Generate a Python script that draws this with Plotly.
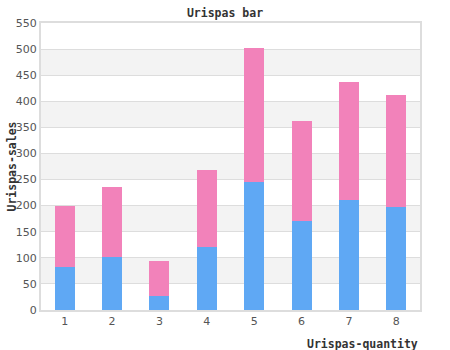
import plotly.graph_objects as go

categories = ["1", "2", "3", "4", "5", "6", "7", "8"]
blue_values = [82, 102, 27, 121, 246, 171, 211, 198]
pink_values = [118, 134, 67, 148, 257, 192, 226, 214]
y_ticks = list(range(0, 551, 50))

fig = go.Figure()
fig.add_trace(go.Bar(x=categories, y=blue_values, marker=dict(color="#5fa8f4", line=dict(width=0)), name="a"))
fig.add_trace(go.Bar(x=categories, y=pink_values, marker=dict(color="#f282ba", line=dict(width=0)), name="b"))

shapes = []
for i in range(len(y_ticks) - 1):
    if i % 2 == 1:
        shapes.append(dict(type="rect", xref="paper", yref="y", x0=0, x1=1,
                           y0=y_ticks[i], y1=y_ticks[i + 1], fillcolor="#f3f3f3",
                           line=dict(width=0), layer="below"))

fig.update_layout(
    width=450, height=350,
    margin=dict(l=41, r=30, t=23, b=40),
    barmode="stack", bargap=0.58,
    showlegend=False,
    paper_bgcolor="white", plot_bgcolor="white",
    shapes=shapes,
    title=dict(text="<b>Urispas bar</b>", x=0.5, xanchor="center", y=0.963, yanchor="middle",
               font=dict(family="DejaVu Sans Mono", size=11.5, color="#333")),
    xaxis=dict(showgrid=False, showline=True, linecolor="#dddddd", linewidth=2, mirror=True,
               ticks="", ticklen=0, tickfont=dict(family="DejaVu Sans", size=11, color="#555")),
    yaxis=dict(range=[0, 550], tickvals=y_ticks, showgrid=True, gridcolor="#dddddd", gridwidth=1,
               showline=True, linecolor="#dddddd", linewidth=2, mirror=True, zeroline=False,
               ticks="", tickfont=dict(family="DejaVu Sans", size=11, color="#555")),
    annotations=[
        dict(text="<b>Urispas-quantity</b>", xref="paper", yref="paper", x=1, y=0, xanchor="right",
             yanchor="middle", yshift=-34, showarrow=False,
             font=dict(family="DejaVu Sans Mono", size=11.5, color="#333")),
        dict(text="<b>Urispas-sales</b>", xref="paper", yref="paper", x=0, y=0.5, xanchor="center",
             yanchor="middle", xshift=-30, yshift=0, textangle=-90, showarrow=False,
             font=dict(family="DejaVu Sans Mono", size=11.5, color="#333")),
    ],
)

fig.write_html("out.html")
